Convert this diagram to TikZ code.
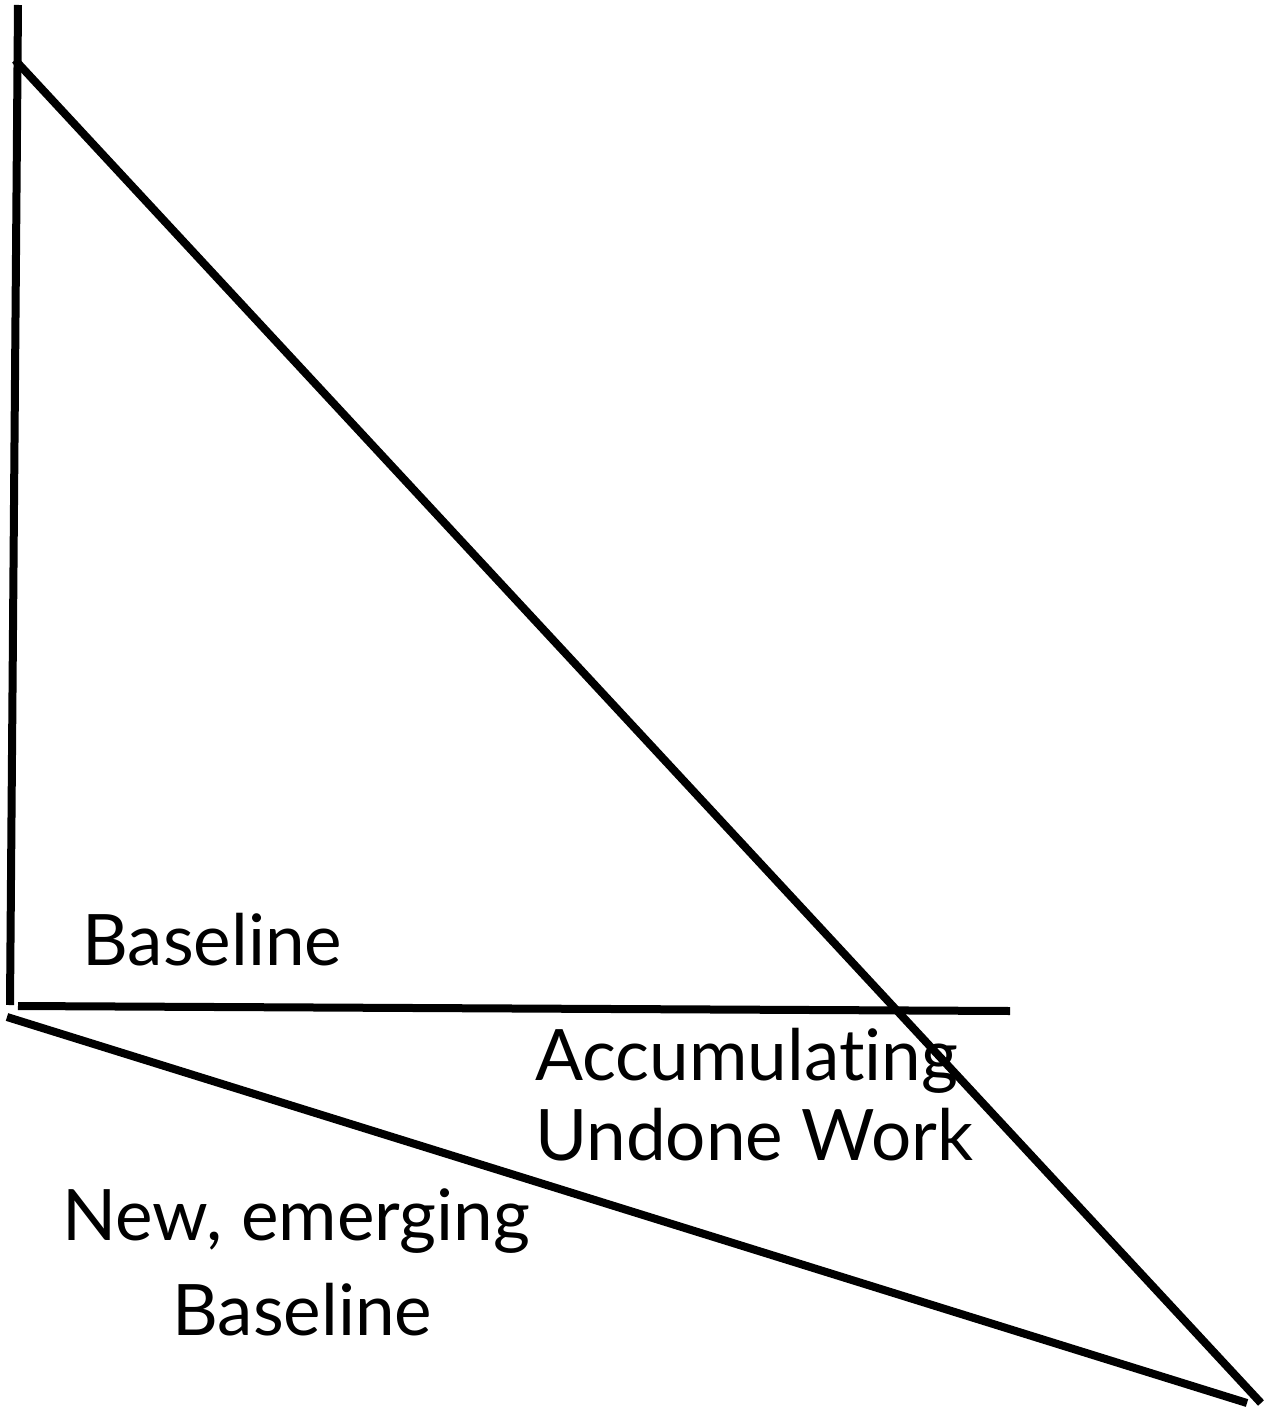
\documentclass[tikz,border=0pt]{standalone}
\usepackage{fontspec}
\setmainfont{Lato}[Ligatures=NoCommon]
\begin{document}
\begin{tikzpicture}[x=0.5pt,y=-0.5pt,
  stroke/.style={line width=4pt,line cap=butt},
  lbl/.style={inner sep=0pt,anchor=base west,font=\fontsize{35.5}{42}\selectfont}]
\useasboundingbox (0,0) rectangle (1278,1411);
% axis and trend lines
\coordinate (axtop) at (18,5);
\coordinate (axbot) at (10,1005);
\coordinate (diagA) at (15,60);
\coordinate (diagB) at (1261,1403);
\coordinate (baseA) at (18,1006);
\coordinate (baseB) at (1010,1011);
\coordinate (newA) at (7,1017);
\coordinate (newB) at (1247,1403);
\draw[stroke] (axtop) -- (axbot);
\draw[stroke] (diagA) -- (diagB);
\draw[stroke] (baseA) -- (baseB);
\draw[stroke] (newA) -- (newB);
% labels
\node[lbl] (baseline) at (82,965) {Baseline};
\node[lbl] (acc1) at (535,1080) {Accumulating};
\node[lbl] (acc2) at (535,1160) {Undone Work};
\node[lbl] (new1) at (62,1240) {New, emerging};
\node[lbl] (new2) at (172,1335) {Baseline};
\end{tikzpicture}
\end{document}
